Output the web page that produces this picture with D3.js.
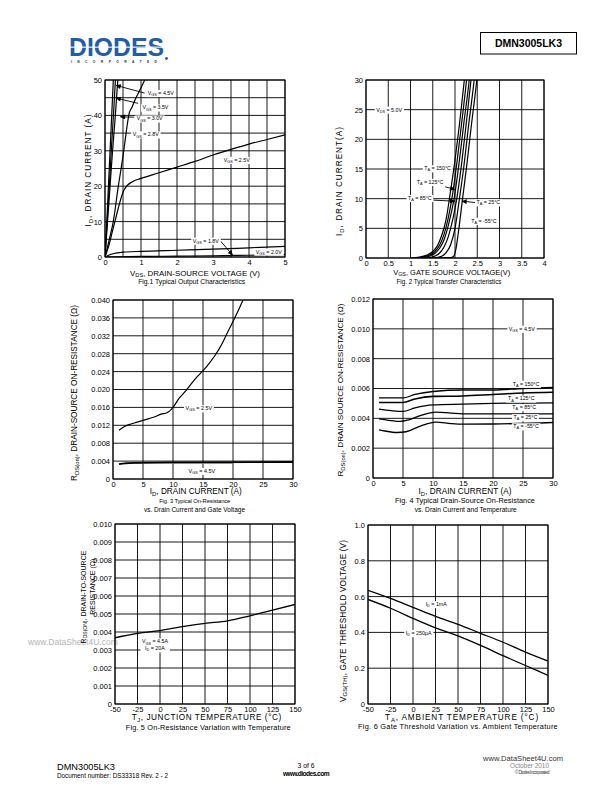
<!DOCTYPE html>
<html><head><meta charset="utf-8">
<script src="https://cdn.jsdelivr.net/npm/d3@7"></script>
<style>
body{margin:0;background:#fff}
svg{display:block}
text{font-family:"Liberation Sans",Arial,Helvetica,sans-serif;white-space:pre}
</style>
</head><body>
<svg id="page" width="612" height="792"></svg>
<script>
// ---------------- DATA ----------------
// Fig 1: Typical Output Characteristics  [VDS (V), ID (A)]
const fig1XTicks = [0,1,2,3,4,5];
const fig1YTicks = [0,10,20,30,40,50];
const fig1Vgs45 = [[0,0],[0.05,10],[0.1,21],[0.15,32],[0.2,43],[0.24,52]];
const fig1Vgs35 = [[0,0],[0.06,10],[0.12,20],[0.18,31],[0.24,41],[0.3,52]];
const fig1Vgs30 = [[0,0],[0.07,10],[0.14,20],[0.21,30],[0.28,39],[0.37,52]];
const fig1Vgs28 = [[0,0],[0.12,5],[0.23,10],[0.37,20],[0.5,28.5],[0.56,33],[0.62,37.5],[0.67,40.5],[0.75,42.3],[0.83,44.3],[1.0,47.8],[1.16,51.2],[1.2,52]];
const fig1Vgs25 = [[0,0],[0.1,3],[0.2,7],[0.3,11],[0.4,15],[0.5,18.3],[0.6,20],[0.75,21.2],[1,22.2],[1.5,23.8],[2,25.4],[2.5,27],[3,28.8],[3.5,30.4],[4,31.9],[4.5,33.2],[5,34.5]];
const fig1Vgs20 = [[0,0],[0.1,0.5],[0.25,1.0],[0.5,1.35],[1,1.6],[2,1.9],[3,2.2],[4,2.6],[5,3.0]];
const fig1Vgs18 = [[0,0],[1,0.15],[2,0.25],[3,0.35],[4,0.5],[5,0.65]];
const fig1Labels = [
  {t:"V_{GS} = 4.5V", x:1.55, y:46.3, arrow:[1.1,46.3,0.3,48.5]},
  {t:"V_{GS} = 3.5V", x:1.4, y:42.2, arrow:[0.92,43.4,0.3,44.9]},
  {t:"V_{GS} = 3.0V", x:1.24, y:39.1, arrow:[0.81,39.5,0.42,39.6]},
  {t:"V_{GS} = 2.8V", x:1.13, y:34.6},
  {t:"V_{GS} = 2.5V", x:3.66, y:27.4},
  {t:"V_{GS} = 1.8V", x:2.8, y:4.6, arrow:[3.2,4.6,3.55,0.5]},
  {t:"V_{GS} = 2.0V", x:4.55, y:1.5}
];

// Fig 2: Typical Transfer Characteristics [VGS (V), ID (A)]
const fig2XTicks = [0,0.5,1,1.5,2,2.5,3,3.5,4];
const fig2YTicks = [0,5,10,15,20,25,30];
const fig2Ta150 = [[1.0,0],[1.2,0.15],[1.4,0.6],[1.5,1.1],[1.6,2.0],[1.7,3.8],[1.8,6.5],[1.875,10],[2.0,16.5],[2.1,22.5],[2.21,30],[2.25,33]];
const fig2Ta125 = [[1.1,0],[1.3,0.2],[1.45,0.6],[1.55,1.1],[1.65,2.1],[1.75,3.9],[1.85,6.8],[1.93,10],[2.05,16.5],[2.15,22.8],[2.26,30],[2.3,33]];
const fig2Ta85  = [[1.2,0],[1.4,0.25],[1.55,0.8],[1.65,1.6],[1.75,3.0],[1.85,5.5],[1.98,10],[2.1,16.5],[2.2,22.8],[2.32,30],[2.36,33]];
const fig2Ta25  = [[1.3,0],[1.5,0.2],[1.65,0.8],[1.75,1.8],[1.85,3.6],[1.95,6.5],[2.04,10],[2.15,16],[2.25,22.5],[2.36,30],[2.4,33]];
const fig2TaMid = [[1.5,0],[1.7,0.3],[1.8,0.9],[1.9,2.2],[2.0,5.0],[2.1,10],[2.2,15.5],[2.3,22],[2.43,30],[2.47,33]];
const fig2TaM55 = [[1.5,0],[1.9,0.05],[1.97,0.3],[2.02,1.5],[2.07,4],[2.17,10],[2.27,16],[2.37,22.5],[2.49,30],[2.53,33]];
const fig2Labels = [
  {t:"V_{DS} = 5.0V", x:0.52, y:25},
  {t:"T_{A} = 150°C", x:1.61, y:15.1},
  {t:"T_{A} = 125°C", x:1.44, y:12.8, arrow:[1.78,12.0,2.0,11.55]},
  {t:"T_{A} = 85°C", x:1.21, y:10.1, arrow:[1.52,9.75,2.0,9.58]},
  {t:"T_{A} = 25°C", x:2.75, y:9.36, arrow:[2.45,9.36,2.15,9.58]},
  {t:"T_{A} = -55°C", x:2.65, y:6.25}
];

// Fig 3: On-Resistance vs Drain Current and Gate Voltage [ID (A), RDS (ohm)]
const fig3XTicks = [0,5,10,15,20,25,30];
const fig3YTicks = [0,0.004,0.008,0.012,0.016,0.020,0.024,0.028,0.032,0.036,0.040];
const fig3Vgs25 = [[1,0.0109],[2,0.0118],[3,0.0123],[4,0.0127],[5,0.0131],[6,0.0135],[7,0.0139],[8,0.0145],[9,0.0148],[10,0.016],[11,0.018],[12,0.0195],[13,0.0212],[14,0.0228],[15,0.0242],[16,0.0258],[17,0.0276],[18,0.0298],[19,0.0325],[20,0.0352],[21,0.038],[22,0.041]];
const fig3Vgs45 = [[1,0.0033],[2,0.0035],[4,0.0036],[10,0.0037],[30,0.0038]];
const fig3Vgs45b = [[2,0.0036],[10,0.00355],[20,0.0035]];
const fig3Labels = [
  {t:"V_{GS} = 2.5V", x:14.3, y:0.0158},
  {t:"V_{GS} = 4.5V", x:14.8, y:0.0018}
];

// Fig 4: Drain-Source On-Resistance vs Drain Current and Temperature
const fig4XTicks = [0,5,10,15,20,25,30];
const fig4YTicks = [0,0.002,0.004,0.006,0.008,0.010,0.012];
const fig4Ta150 = [[1,0.00537],[5,0.00537],[7,0.0056],[10,0.0058],[15,0.0059],[20,0.0059],[25,0.006],[30,0.00607]];
const fig4Ta125 = [[1,0.00506],[5,0.00506],[7,0.0053],[10,0.00547],[15,0.0055],[20,0.0056],[25,0.0057],[30,0.00575]];
const fig4Ta85  = [[1,0.00462],[3,0.00452],[5,0.00446],[7,0.0047],[10,0.0049],[15,0.00495],[20,0.005],[30,0.00504]];
const fig4Ta25  = [[1,0.00397],[3,0.00385],[4.5,0.00379],[6,0.0039],[8,0.0042],[10.5,0.00442],[13,0.00435],[15,0.0043],[30,0.0043]];
const fig4TaM55 = [[1,0.00323],[2,0.00315],[4,0.00305],[5.5,0.0031],[8,0.0035],[10.5,0.00375],[13,0.00365],[15,0.00361],[20,0.00362],[30,0.00372]];
const fig4Labels = [
  {t:"V_{GS} = 4.5V", x:24.8, y:0.010},
  {t:"T_{A} = 150°C", x:25.5, y:0.00631},
  {t:"T_{A} = 125°C", x:24.7, y:0.00532},
  {t:"T_{A} = 85°C", x:25.2, y:0.00474},
  {t:"T_{A} = 25°C", x:25.4, y:0.00407},
  {t:"T_{A} = -55°C", x:25.5, y:0.00346}
];

// Fig 5: On-Resistance vs Junction Temperature
const fig5XTicks = [-50,-25,0,25,50,75,100,125,150];
const fig5YTicks = [0,0.001,0.002,0.003,0.004,0.005,0.006,0.007,0.008,0.009,0.010];
const fig5Tj = [-50,-25,0,25,50,75,100,125,150];
const fig5Rds = [0.00368,0.00392,0.00408,0.0043,0.00448,0.00462,0.0049,0.00522,0.00553];
const fig5Label = {lines:["V_{GS} = 4.5A","I_{D} = 20A"], x:-5.6, y:0.00328};

// Fig 6: Gate Threshold vs Ambient Temperature
const fig6XTicks = [-50,-25,0,25,50,75,100,125,150];
const fig6YTicks = [0,0.2,0.4,0.6,0.8,1.0];
const fig6Ta = [-50,-25,0,25,50,75,100,125,150];
const fig6Id1mA = [0.635,0.59,0.54,0.49,0.445,0.395,0.345,0.29,0.24];
const fig6Id250uA = [0.584,0.535,0.478,0.425,0.38,0.327,0.27,0.215,0.16];
const fig6Labels = [
  {t:"I_{D} = 1mA", x:25.8, y:0.558},
  {t:"I_{D} = 250µA", x:6.2, y:0.396}
];

// ---------------- DRAWING ----------------
const svg = d3.select('#page');
const FONT = '"Liberation Sans", Arial, Helvetica, sans-serif';

svg.append('defs').append('marker').attr('id','ah')
  .attr('viewBox','0 0 10 10').attr('refX',10).attr('refY',5)
  .attr('markerWidth',6).attr('markerHeight',5).attr('markerUnits','userSpaceOnUse')
  .attr('orient','auto')
  .append('path').attr('d','M0,0L10,5L0,10z').attr('fill','#000');

function rich(t, str){
  const parts = str.split(/(_\{[^}]*\})/).filter(s => s.length);
  let sub = false;
  parts.forEach(p => {
    if (p.startsWith('_{')) {
      t.append('tspan').attr('font-size','72%').attr('dy','0.3em').text(p.slice(2,-1));
      sub = true;
    } else {
      const ts = t.append('tspan').text(p);
      if (sub) ts.attr('dy','-0.216em');
      sub = false;
    }
  });
  return t;
}
function txt(g, x, y, str, size, o={}){
  const t = g.append('text').attr('x',x).attr('y',y).attr('font-size',size)
    .attr('text-anchor',o.anchor||'middle').attr('fill',o.fill||'#000');
  if (o.weight) t.attr('font-weight',o.weight);
  if (o.family) t.attr('font-family',o.family);
  if (o.rotate) t.attr('transform',`rotate(-90,${x},${y})`);
  rich(t,str);
  if (o.len) {
    const w = t.node().getComputedTextLength();
    const k = Math.max(0.85, Math.min(1.08, o.len / w));
    t.attr('font-size', size*k);
    const w2 = t.node().getComputedTextLength();
    const n = str.replace(/_\{|\}/g,'').length;
    t.attr('letter-spacing', ((o.len - w2) / n).toFixed(3));
  }
  return t;
}
function boxLabel(g, x, y, lines, size, lineH){
  const ts = lines.map((s,i) => txt(g, x, y + (i-(lines.length-1)/2)*lineH + size*0.35, s, size));
  let x0=1e9,y0=1e9,x1=-1e9,y1=-1e9;
  ts.forEach(t => { const b=t.node().getBBox(); x0=Math.min(x0,b.x); y0=Math.min(y0,b.y); x1=Math.max(x1,b.x+b.width); y1=Math.max(y1,b.y+b.height); });
  g.insert('rect', () => ts[0].node()).attr('x',x0-1.5).attr('y',y0).attr('width',x1-x0+3).attr('height',y1-y0).attr('fill','#fff');
}

let clipN = 0;
function chart(o){
  const g = svg.append('g');
  const x = d3.scaleLinear().domain(o.xd).range([o.l,o.r]);
  const y = d3.scaleLinear().domain(o.yd).range([o.b,o.t]);
  const id = 'clip'+(clipN++);
  svg.select('defs').append('clipPath').attr('id',id).append('rect')
    .attr('x',o.l).attr('y',o.t).attr('width',o.r-o.l).attr('height',o.b-o.t);
  g.append('g').selectAll('line').data(o.xg).join('line')
    .attr('x1',d=>x(d)).attr('x2',d=>x(d)).attr('y1',o.t).attr('y2',o.b)
    .attr('stroke','#000').attr('stroke-width',0.9);
  g.append('g').selectAll('line').data(o.yg).join('line')
    .attr('y1',d=>y(d)).attr('y2',d=>y(d)).attr('x1',o.l).attr('x2',o.r)
    .attr('stroke','#000').attr('stroke-width',0.9);
  g.append('rect').attr('x',o.l).attr('y',o.t).attr('width',o.r-o.l).attr('height',o.b-o.t)
    .attr('fill','none').attr('stroke','#000').attr('stroke-width',1);
  const xa = g.append('g').attr('transform',`translate(0,${o.b})`)
    .call(d3.axisBottom(x).tickValues(o.xt).tickFormat(o.xf).tickSize(0).tickPadding(3));
  xa.select('.domain').remove();
  xa.attr('font-size',o.tick||7.5).attr('font-family',FONT);
  xa.selectAll('text').attr('fill','#000');
  const ya = g.append('g').attr('transform',`translate(${o.l},0)`)
    .call(d3.axisLeft(y).tickValues(o.yt).tickFormat(o.yf).tickSize(0).tickPadding(3));
  ya.select('.domain').remove();
  ya.attr('font-size',o.tick||7.5).attr('font-family',FONT);
  ya.selectAll('text').attr('fill','#000');
  const plot = g.append('g').attr('clip-path',`url(#${id})`);
  const line = d3.line().x(d=>x(d[0])).y(d=>y(d[1])).curve(d3.curveMonotoneX);
  const ann = g.append('g');
  function series(data, w=1.2, col='#000'){
    plot.append('path').datum(data).attr('d',line).attr('fill','none')
      .attr('stroke',col).attr('stroke-width',w).attr('stroke-linejoin','round');
  }
  function labels(list, size=5.3){
    list.forEach(L => {
      if (L.arrow) {
        ann.append('line').attr('x1',x(L.arrow[0])).attr('y1',y(L.arrow[1]))
          .attr('x2',x(L.arrow[2])).attr('y2',y(L.arrow[3]))
          .attr('stroke','#000').attr('stroke-width',0.9).attr('marker-end','url(#ah)');
      }
    });
    list.forEach(L => boxLabel(ann, x(L.x), y(L.y), [L.t], size, 0));
  }
  return {g,x,y,series,labels,ann};
}
const fmtPlain = d => d===0 ? '0' : String(d);
const fmt3 = d => d===0 ? '0' : d.toFixed(3);

// watermark
txt(svg, 28, 645, "www.DataSheet4U.com", 8.5, {anchor:'start', fill:'#b5b5b5', family:'"Liberation Serif", "Times New Roman", serif'});

// ---- Header ----
svg.append('text').attr('x',69).attr('y',56).attr('font-size',26.5).attr('font-weight','bold')
  .attr('fill','#1f5ca9').attr('textLength',95).attr('lengthAdjust','spacingAndGlyphs').text('DIODES');
svg.append('rect').attr('x',67).attr('y',46.6).attr('width',100).attr('height',1.1).attr('fill','#fff');
svg.append('text').attr('x',71).attr('y',63).attr('font-size',3.4).attr('font-weight','bold').attr('fill','#333')
  .attr('textLength',86).attr('lengthAdjust','spacing').text('INCORPORATED');
svg.append('circle').attr('cx',166.5).attr('cy',58.5).attr('r',1.4).attr('fill','#1f5ca9');
svg.append('rect').attr('x',480.5).attr('y',32.5).attr('width',96).attr('height',21.5)
  .attr('fill','none').attr('stroke','#000').attr('stroke-width',1);
txt(svg, 528.5, 47.3, 'DMN3005LK3', 10.5, {weight:'bold'});

// ---- Fig 1 ----
const c1 = chart({l:105,r:285,t:80,b:257,xd:[0,5],yd:[0,50],
  xg:d3.range(0,5.01,0.5), yg:d3.range(0,50.1,5), xt:fig1XTicks, yt:fig1YTicks, xf:fmtPlain, yf:fmtPlain});
[fig1Vgs45,fig1Vgs35,fig1Vgs30,fig1Vgs28,fig1Vgs25,fig1Vgs20,fig1Vgs18].forEach(s=>c1.series(s));
c1.labels(fig1Labels);
txt(svg, 195, 275.5, 'V_{DS}, DRAIN-SOURCE VOLTAGE (V)', 7.6, {len:130});
txt(svg, 191.7, 284.2, 'Fig.1 Typical Output Characteristics', 6.8, {len:107});
txt(svg, 90.8, 170, 'I_{D}, DRAIN CURRENT (A)', 7.6, {rotate:true, len:113});

// ---- Fig 2 ----
const c2 = chart({l:366,r:544,t:80,b:258,xd:[0,4],yd:[0,30],
  xg:d3.range(0,4.01,0.5), yg:d3.range(0,30.1,5), xt:fig2XTicks, yt:fig2YTicks, xf:fmtPlain, yf:fmtPlain});
[fig2Ta150,fig2Ta125,fig2Ta85,fig2Ta25,fig2TaMid,fig2TaM55].forEach(s=>c2.series(s));
c2.labels(fig2Labels);
txt(svg, 451.7, 274.5, 'V_{GS}, GATE SOURCE VOLTAGE(V)', 7.6, {len:117});
txt(svg, 449, 283.5, 'Fig. 2 Typical Transfer Characteristics', 6.8, {len:105});
txt(svg, 342.2, 181, 'I_{D}, DRAIN CURRENT(A)', 7.6, {rotate:true, len:110});

// ---- Fig 3 ----
const c3 = chart({l:113,r:293,t:300,b:479,xd:[0,30],yd:[0,0.040],
  xg:d3.range(0,30.1,5), yg:fig3YTicks, xt:fig3XTicks, yt:fig3YTicks, xf:fmtPlain, yf:fmt3});
c3.series(fig3Vgs25);
c3.series(fig3Vgs45b, 1, '#888');
c3.series(fig3Vgs45, 1.8);
c3.labels(fig3Labels, 5.4);
txt(svg, 195.8, 494.4, 'I_{D}, DRAIN CURRENT (A)', 7.6, {len:92});
txt(svg, 194.7, 503.4, 'Fig. 3 Typical On-Resistance', 6.8, {len:71});
txt(svg, 194.5, 511.9, 'vs. Drain Current and Gate Voltage', 6.8, {len:101});
txt(svg, 76.9, 393, 'R_{DS(on)}, DRAIN-SOURCE ON-RESISTANCE (Ω)', 7.6, {rotate:true, len:176});

// ---- Fig 4 ----
const c4 = chart({l:373,r:553,t:299,b:478,xd:[0,30],yd:[0,0.012],
  xg:d3.range(0,30.1,5), yg:fig4YTicks, xt:fig4XTicks, yt:fig4YTicks, xf:fmtPlain, yf:fmt3});
c4.series(fig4Ta150, 1.3);
c4.series(fig4Ta125, 1.6);
[fig4Ta85,fig4Ta25,fig4TaM55].forEach(s=>c4.series(s,1.3));
c4.labels(fig4Labels, 5.3);
txt(svg, 465, 494, 'I_{D}, DRAIN CURRENT (A)', 7.6, {len:93});
txt(svg, 465, 502.8, 'Fig. 4 Typical Drain-Source On-Resistance', 6.8, {len:140});
txt(svg, 465.8, 511.6, 'vs. Drain Current and Temperature', 6.8, {len:102});
txt(svg, 342.9, 390, 'R_{DS(on)}, DRAIN SOURCE ON-RESISTANCE (Ω)', 7.6, {rotate:true, len:173});

// ---- Fig 5 ----
const c5 = chart({l:115,r:295,t:524,b:704,xd:[-50,150],yd:[0,0.010],
  xg:fig5XTicks, yg:fig5YTicks, xt:fig5XTicks, yt:fig5YTicks, xf:fmtPlain, yf:fmt3});
c5.series(fig5Tj.map((t,i)=>[t,fig5Rds[i]]), 1.3);
boxLabel(c5.ann, c5.x(fig5Label.x), c5.y(fig5Label.y), fig5Label.lines, 5.3, 6.8);
txt(svg, 206.7, 720, 'T_{J}, JUNCTION TEMPERATURE (°C)', 7.6, {len:150});
txt(svg, 208.3, 729.5, 'Fig. 5 On-Resistance Variation with Temperature', 6.8, {len:165});
txt(svg, 85.8, 597, 'R_{DS(ON)}, DRAIN-TO-SOURCE', 7, {rotate:true});
txt(svg, 94.8, 586.7, 'RESISTANCE (Ω)', 7, {rotate:true});

// ---- Fig 6 ----
const c6 = chart({l:368,r:548,t:525,b:704,xd:[-50,150],yd:[0,1.0],
  xg:fig6XTicks, yg:fig6YTicks, xt:fig6XTicks, yt:fig6YTicks, xf:fmtPlain, yf:d=>d===0?'0':d.toFixed(1)});
c6.series(fig6Ta.map((t,i)=>[t,fig6Id1mA[i]]), 1.3);
c6.series(fig6Ta.map((t,i)=>[t,fig6Id250uA[i]]), 1.3);
c6.labels(fig6Labels, 5.3);
txt(svg, 462, 720, 'T_{A}, AMBIENT TEMPERATURE (°C)', 7.6, {len:154});
txt(svg, 458, 728.5, 'Fig. 6 Gate Threshold Variation vs. Ambient Temperature', 6.8, {len:200});
txt(svg, 345.6, 621, 'V_{GS(TH)}, GATE THRESHOLD VOLTAGE (V)', 7.6, {rotate:true, len:162});

// ---- Footer ----
txt(svg, 57, 769.5, 'DMN3005LK3', 10, {anchor:'start', len:58});
txt(svg, 57, 777.5, 'Document number: DS33318 Rev. 2 - 2', 6.3, {anchor:'start', len:111});
txt(svg, 306, 767.5, '3 of 6', 6.8);
txt(svg, 306, 776, 'www.diodes.com', 7.8, {weight:'bold', len:46});
txt(svg, 563, 760.5, 'www.DataSheet4U.com', 8.5, {anchor:'end', fill:'#333', len:80});
txt(svg, 549, 767.5, 'October 2010', 6.8, {anchor:'end', fill:'#888', len:39});
txt(svg, 549, 774, '© Diodes Incorporated', 5.4, {anchor:'end', fill:'#444', len:34});
</script>
</body></html>
